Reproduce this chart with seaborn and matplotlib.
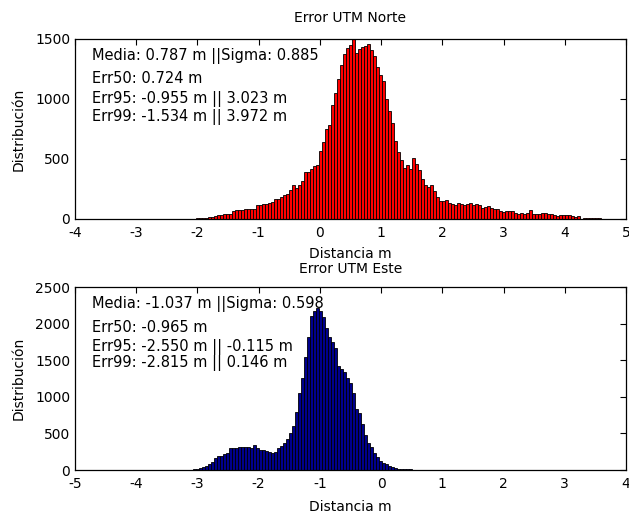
import numpy as np
import pandas as pd
import matplotlib
matplotlib.use("Agg")
import matplotlib.pyplot as plt
import seaborn as sns

# ---------------- data ----------------
bin_width = 0.049

norte_start = -3.046
norte_counts = [0] * 20 + [
    3, 8, 8, 8, 11, 17, 19, 28, 31, 36,
    42, 44, 44, 70, 72, 72, 72, 83, 83, 83,
    83, 114, 120, 128, 128, 133, 139, 164, 170, 184,
    197, 209, 245, 281, 259, 286, 320, 390, 392, 420,
    439, 453, 564, 642, 753, 781, 948, 1051, 1170, 1287,
    1379, 1421, 1454, 1496, 1384, 1418, 1432, 1440, 1460, 1412,
    1362, 1265, 1204, 1148, 1004, 904, 801, 648, 559, 495,
    425, 453, 420, 509, 459, 411, 336, 281, 270, 286,
    231, 181, 147, 147, 158, 131, 125, 120, 133, 125,
    120, 128, 133, 114, 125, 117, 92, 97, 106, 92,
    86, 86, 64, 56, 64, 64, 64, 50, 44, 50,
    42, 50, 75, 44, 44, 44, 50, 50, 44, 44,
    36, 22, 33, 36, 33, 33, 28, 17, 22, 3,
    11, 11, 11, 11, 11, 6,
]

este_start = -3.948
este_counts = [0] * 18 + [
    10, 18, 23, 36, 55, 82, 114, 160, 192, 196,
    219, 237, 296, 306, 306, 310, 319, 319, 319, 306,
    337, 296, 274, 274, 264, 251, 228, 251, 296, 328,
    365, 420, 502, 602, 798, 1049, 1254, 1541, 1824, 2107,
    2180, 2212, 2180, 2088, 1938, 1815, 1756, 1664, 1423, 1377,
    1336, 1254, 1186, 1058, 830, 775, 629, 479, 374, 310,
    237, 182, 123, 100, 78, 55, 36, 23, 18, 14,
    14, 14, 9, 5,
]

norte_title = "Error UTM Norte"
este_title = "Error UTM Este"
xlabel = "Distancia m"
ylabel = "Distribución"

norte_text = ["Media: 0.787 m ||Sigma: 0.885",
              "Err50: 0.724 m",
              "Err95: -0.955 m || 3.023 m",
              "Err99: -1.534 m || 3.972 m"]
este_text = ["Media: -1.037 m ||Sigma: 0.598",
             "Err50: -0.965 m",
             "Err95: -2.550 m || -0.115 m",
             "Err99: -2.815 m || 0.146 m"]

norte_xticks = [-4, -3, -2, -1, 0, 1, 2, 3, 4, 5]
norte_yticks = [0, 500, 1000, 1500]
este_xticks = [-5, -4, -3, -2, -1, 0, 1, 2, 3, 4]
este_yticks = [0, 500, 1000, 1500, 2000, 2500]

# ---------------- style ----------------
sns.set_style("white")
plt.rcParams["font.family"] = ["DejaVu Sans"]
plt.rcParams["font.size"] = 10
plt.rcParams["axes.unicode_minus"] = False
plt.rcParams["text.color"] = "black"
plt.rcParams["axes.labelcolor"] = "black"
plt.rcParams["xtick.color"] = "black"
plt.rcParams["ytick.color"] = "black"

fig = plt.figure(figsize=(6.29, 5.15), dpi=100)
ax1 = fig.add_axes([75 / 629, 1 - 219 / 515, 551 / 629, 180 / 515])
ax2 = fig.add_axes([75 / 629, 1 - 470 / 515, 551 / 629, 182.7 / 515])


def draw(ax, start, counts, color, title, texts, text_y, xticks, yticks,
         title_pad, xlabel_pad):
    counts = [float(c) for c in counts]
    n = len(counts)
    edges = [float(start + bin_width * k) for k in range(n + 1)]
    centers = [(edges[k] + edges[k + 1]) / 2 for k in range(n)]
    df = pd.DataFrame({"x": centers, "w": counts})
    sns.histplot(data=df, x="x", weights="w", bins=edges, stat="count",
                 color=color, edgecolor="black", linewidth=0.6, alpha=1,
                 ax=ax)
    ax.set_xlim(xticks[0], xticks[-1])
    ax.set_ylim(yticks[0], yticks[-1])
    ax.set_xticks(xticks)
    ax.set_yticks(yticks)
    ax.tick_params(direction="in", top=True, right=True, length=4,
                   width=0.8, labelsize=10, color="black",
                   labelcolor="black")
    ax.tick_params(axis="x", pad=5)
    ax.tick_params(axis="y", pad=3.5)
    for s in ax.spines.values():
        s.set_visible(True)
        s.set_color("black")
        s.set_linewidth(0.9)
    ax.set_title(title, fontsize=10, pad=title_pad, color="black")
    ax.set_xlabel(xlabel, fontsize=10, labelpad=xlabel_pad, color="black")
    ax.set_ylabel(ylabel, fontsize=10, labelpad=7, color="black")
    for t, yy in zip(texts, text_y):
        ax.text(0.030, yy, t, transform=ax.transAxes, ha="left",
                va="center", fontsize=10.5, color="black")


draw(ax1, norte_start, norte_counts, "#ff0000", norte_title, norte_text,
     [0.906, 0.778, 0.667, 0.565], norte_xticks, norte_yticks, 12, 5.0)
draw(ax2, este_start, este_counts, "#00008c", este_title, este_text,
     [0.907, 0.781, 0.675, 0.587], este_xticks, este_yticks, 10.5, 6.5)

fig.savefig("out.png", dpi=100)
